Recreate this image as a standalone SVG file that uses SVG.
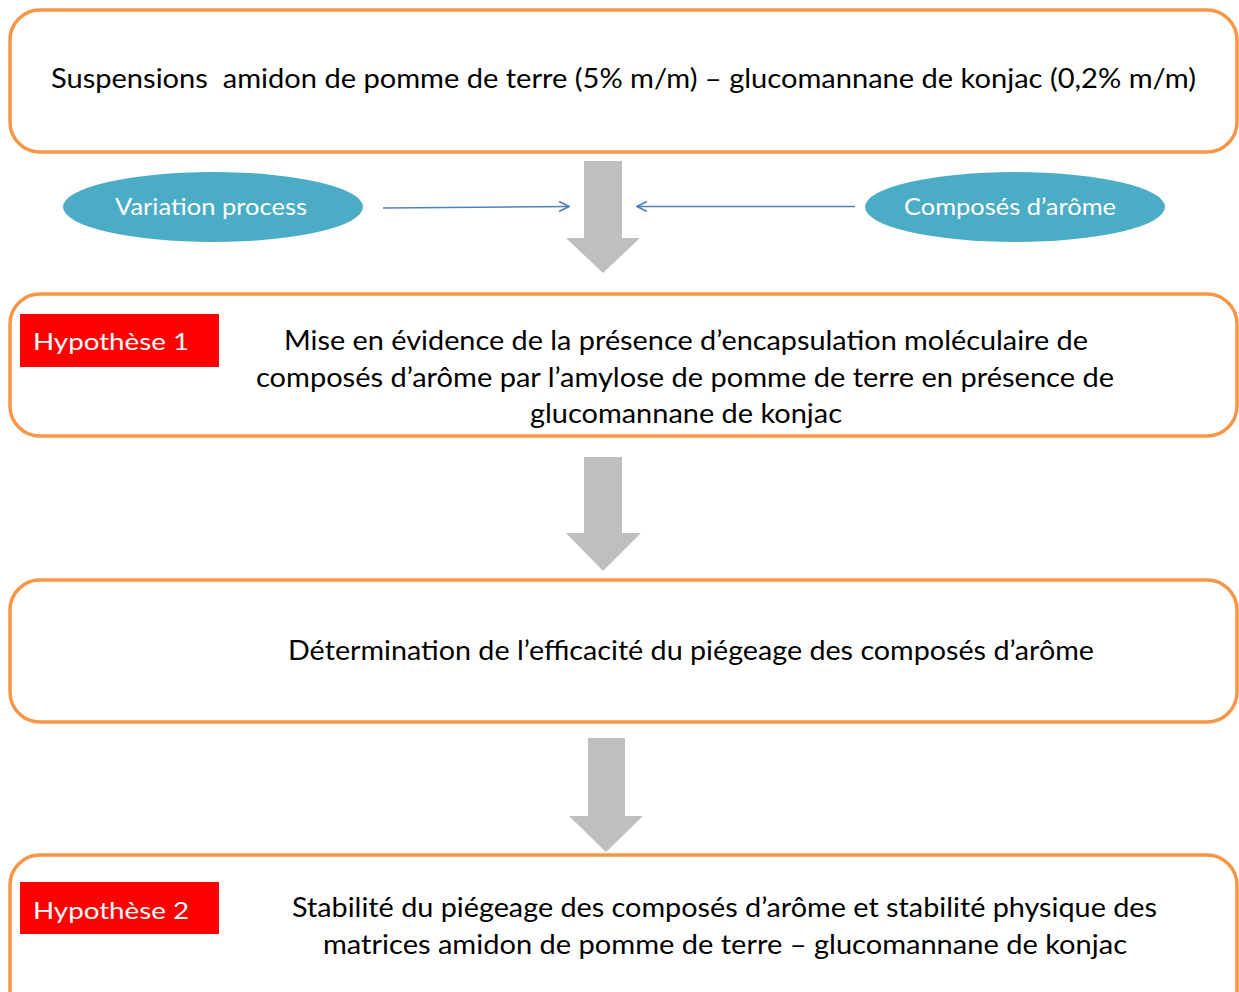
<svg xmlns="http://www.w3.org/2000/svg" width="1239" height="992" viewBox="0 0 1239 992">
<defs>
<style>
.box{fill:#fff;stroke:#F79646;stroke-width:3.5}
.ell{fill:#4BACC6}
.tag{fill:#FF0000}
.big{fill:#BFBFBF}
.t{font-family:Lato,"Open Sans",sans-serif;font-size:27px;fill:#000}
.w{font-family:Lato,"Open Sans",sans-serif;font-size:24px;fill:#fff}
.lk{stroke:#4F81BD;stroke-width:1.6;fill:none}
</style>
<marker id="chev" viewBox="0 0 12 12" refX="11" refY="6" markerWidth="12" markerHeight="12" markerUnits="userSpaceOnUse" orient="auto">
<path d="M1,1 L11,6 L1,11" fill="none" stroke="#4F81BD" stroke-width="1.6"/>
</marker>
</defs>
<rect width="1239" height="992" fill="#fff"/>
<g id="n1">
<rect class="box" x="10" y="10" width="1227" height="142" rx="30"/>
<text class="t" x="51" y="88" textLength="1145" lengthAdjust="spacingAndGlyphs" xml:space="preserve" style="white-space:pre">Suspensions  amidon de pomme de terre (5% m/m) – glucomannane de konjac (0,2% m/m)</text>
</g>
<g id="n_var">
<ellipse class="ell" cx="213" cy="207" rx="150" ry="35"/>
<text class="w" x="115" y="215" textLength="192" lengthAdjust="spacingAndGlyphs">Variation process</text>
</g>
<g id="n_arome">
<ellipse class="ell" cx="1015" cy="207" rx="150" ry="35"/>
<text class="w" x="904" y="215" textLength="212" lengthAdjust="spacingAndGlyphs">Composés d’arôme</text>
</g>
<g id="n2">
<rect class="box" x="10" y="294" width="1227" height="142" rx="30"/>
<rect class="tag" x="20" y="314" width="199" height="53"/>
<text class="w" x="33" y="350" textLength="156" lengthAdjust="spacingAndGlyphs">Hypothèse 1</text>
<text class="t" x="284" y="350" textLength="804" lengthAdjust="spacingAndGlyphs">Mise en évidence de la présence d’encapsulation moléculaire de</text>
<text class="t" x="256" y="387" textLength="858" lengthAdjust="spacingAndGlyphs">composés d’arôme par l’amylose de pomme de terre en présence de</text>
<text class="t" x="530" y="423" textLength="312" lengthAdjust="spacingAndGlyphs">glucomannane de konjac</text>
</g>
<g id="n3">
<rect class="box" x="10" y="580" width="1227" height="142" rx="30"/>
<text class="t" x="288" y="660" textLength="806" lengthAdjust="spacingAndGlyphs">Détermination de l’efficacité du piégeage des composés d’arôme</text>
</g>
<g id="n4">
<rect class="box" x="10" y="855" width="1227" height="170" rx="30"/>
<rect class="tag" x="20" y="882" width="199" height="52"/>
<text class="w" x="33" y="919" textLength="156" lengthAdjust="spacingAndGlyphs">Hypothèse 2</text>
<text class="t" x="292" y="917" textLength="865" lengthAdjust="spacingAndGlyphs">Stabilité du piégeage des composés d’arôme et stabilité physique des</text>
<text class="t" x="323" y="954" textLength="804" lengthAdjust="spacingAndGlyphs">matrices amidon de pomme de terre – glucomannane de konjac</text>
</g>
<g id="connectors">
<polygon class="big" points="584,161 622,161 622,238 640,238 603,273 566,238 584,238"/>
<polygon class="big" points="584,457 622,457 622,533 641,533 603,571 566,533 584,533"/>
<polygon class="big" points="588,738 625,738 625,816 643,816 606,852 569,816 588,816"/>
<line class="lk" x1="383" y1="208" x2="569" y2="206.5" marker-end="url(#chev)"/>
<line class="lk" x1="855" y1="206.5" x2="637" y2="206.5" marker-end="url(#chev)"/>
</g>
</svg>
